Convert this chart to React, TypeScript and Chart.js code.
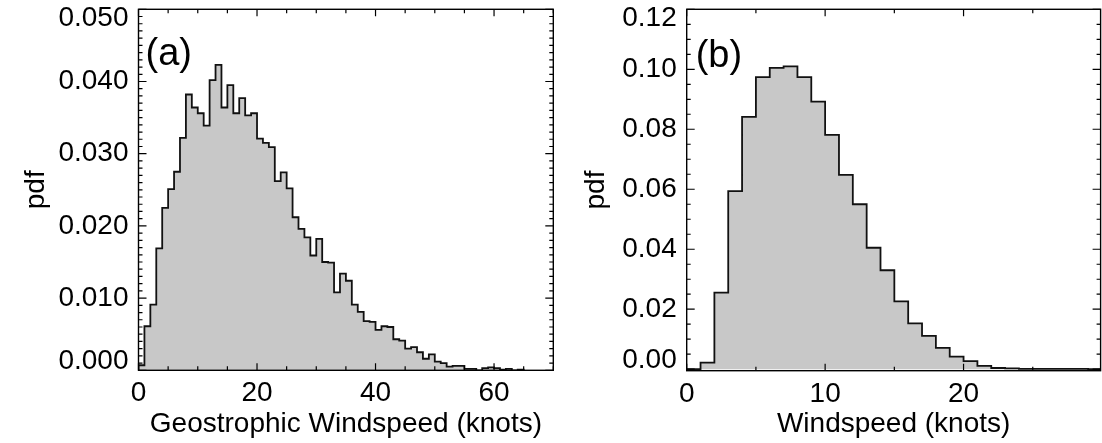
import React, { useEffect, useRef } from "react";
import { Chart, registerables } from "chart.js";

Chart.register(...registerables);

// ---------------- Data: panel (a) ----------------
const A_BIN_START = 0;
const A_BIN_WIDTH = 1; // knots
const A_PDF = [
  0.0007, 0.0061, 0.0091, 0.0169, 0.0225, 0.0251, 0.0275, 0.0322, 0.0382, 0.0364,
  0.0356, 0.0339, 0.0402, 0.0423, 0.0364, 0.0395, 0.0356, 0.0377, 0.0353, 0.0356,
  0.0321, 0.0315, 0.0309, 0.0262, 0.0274, 0.0252, 0.0212, 0.0196, 0.0184, 0.0159,
  0.0182, 0.0150, 0.0149, 0.0108, 0.0134, 0.0124, 0.0091, 0.0081, 0.0068, 0.0067,
  0.0056, 0.0061, 0.0060, 0.0043, 0.0041, 0.0030, 0.0032, 0.0025, 0.0016, 0.0022,
  0.0012, 0.0010, 0.0005, 0.0006, 0.0006, 0.0002, 0.0002, 0.0000, 0.0003, 0.0004,
  0.0003, 0.0001, 0.0002, 0.0000, 0.0001,
];
const A_X_TICKS = [0, 20, 40, 60];
const A_Y_TICKS = [0, 0.01, 0.02, 0.03, 0.04, 0.05];
const A_X_TITLE = "Geostrophic Windspeed (knots)";
const A_TAG = "(a)";

// ---------------- Data: panel (b) ----------------
const B_BIN_START = 0;
const B_BIN_WIDTH = 1; // knots
const B_PDF = [
  0.0, 0.0022, 0.0255, 0.0594, 0.0841, 0.0974, 0.1005, 0.101, 0.0974, 0.0892,
  0.0781, 0.0648, 0.055, 0.0405, 0.033, 0.0226, 0.0153, 0.0111, 0.0071, 0.0042,
  0.0027, 0.0011, 0.0004, 0.0003, 0.0001, 0.0001, 0.0001, 0.0001, 0.0001, 0.00005,
];
const B_X_TICKS = [0, 10, 20];
const B_Y_TICKS = [0, 0.02, 0.04, 0.06, 0.08, 0.1, 0.12];
const B_X_TITLE = "Windspeed (knots)";
const B_TAG = "(b)";

const Y_TITLE = "pdf";

// ---------------- Styling / layout ----------------
const FONT = '"Liberation Sans", Arial, Helvetica, sans-serif';
const FONT_SIZE = 28;
const FILL = "#c8c8c8";

Chart.defaults.color = "#000";
Chart.defaults.font.family = FONT;

type Spec = {
  tag: string;
  values: number[];
  binStart: number;
  binWidth: number;
  xMin: number;
  xMax: number;
  yMin: number;
  yMax: number;
  xTicks: number[];
  yTicks: number[];
  xMinorStep: number;
  yMinorStep: number;
  decimals: number;
  xTitle: string;
  canvasX: number;
  width: number;
  height: number;
  area: { left: number; top: number; right: number; bottom: number };
  tagDx: number;
  tagDy: number;
};

const SPEC_A: Spec = {
  tag: A_TAG,
  values: A_PDF,
  binStart: A_BIN_START,
  binWidth: A_BIN_WIDTH,
  xMin: 0,
  xMax: 70,
  yMin: 0,
  yMax: 0.05,
  xTicks: A_X_TICKS,
  yTicks: A_Y_TICKS,
  xMinorStep: 5,
  yMinorStep: 0.001,
  decimals: 3,
  xTitle: A_X_TITLE,
  canvasX: 0,
  width: 560,
  height: 443,
  area: { left: 138.5, top: 9.3, right: 553.3, bottom: 370.3 },
  tagDx: 7,
  tagDy: 56,
};

const SPEC_B: Spec = {
  tag: B_TAG,
  values: B_PDF,
  binStart: B_BIN_START,
  binWidth: B_BIN_WIDTH,
  xMin: 0,
  xMax: 29.9,
  yMin: -0.0005,
  yMax: 0.12,
  xTicks: B_X_TICKS,
  yTicks: B_Y_TICKS,
  xMinorStep: 5,
  yMinorStep: 0.005,
  decimals: 2,
  xTitle: B_X_TITLE,
  canvasX: 560,
  width: 542,
  height: 443,
  area: { left: 126.7, top: 9.3, right: 540.6, bottom: 370.7 },
  tagDx: 9,
  tagDy: 58,
};

function stepPoints(values: number[], start: number, width: number) {
  const pts: { x: number; y: number }[] = [{ x: start, y: 0 }];
  values.forEach((v, i) => pts.push({ x: start + i * width, y: v }));
  pts.push({ x: start + values.length * width, y: 0 });
  return pts;
}

function tickValues(min: number, max: number, step: number) {
  const out: number[] = [];
  const n0 = Math.ceil(min / step - 1e-9);
  const n1 = Math.floor(max / step + 1e-9);
  for (let k = n0; k <= n1; k++) out.push(k * step);
  return out;
}

function isMajor(v: number, majors: number[], eps: number) {
  return majors.some((t) => Math.abs(t - v) < eps);
}

function framePlugin(spec: Spec) {
  return {
    id: "frame" + spec.canvasX,
    afterDraw(chart: any) {
      const { ctx, chartArea } = chart;
      const { left, right, top, bottom } = chartArea;
      const xs = chart.scales.x;
      const ys = chart.scales.y;
      ctx.save();
      ctx.strokeStyle = "#000";
      ctx.lineWidth = 1.2;
      ctx.beginPath();
      for (const v of tickValues(spec.xMin, spec.xMax, spec.xMinorStep)) {
        const len = isMajor(v, spec.xTicks, spec.xMinorStep / 100) ? 7 : 4;
        const px = xs.getPixelForValue(v);
        ctx.moveTo(px, bottom);
        ctx.lineTo(px, bottom - len);
        ctx.moveTo(px, top);
        ctx.lineTo(px, top + len);
      }
      for (const v of tickValues(spec.yMin, spec.yMax, spec.yMinorStep)) {
        const len = isMajor(v, spec.yTicks, spec.yMinorStep / 100) ? 8 : 4;
        const py = ys.getPixelForValue(v);
        ctx.moveTo(left, py);
        ctx.lineTo(left + len, py);
        ctx.moveTo(right, py);
        ctx.lineTo(right - len, py);
      }
      ctx.stroke();
      ctx.lineWidth = 1.4;
      ctx.strokeRect(left, top, right - left, bottom - top);
      ctx.fillStyle = "#000";
      ctx.font = `38px ${FONT}`;
      ctx.textAlign = "left";
      ctx.textBaseline = "alphabetic";
      ctx.fillText(spec.tag, left + spec.tagDx, top + spec.tagDy);
      ctx.restore();
    },
  };
}

function buildConfig(spec: Spec): any {
  const { area, width, height } = spec;
  return {
    type: "line",
    data: {
      datasets: [
        {
          data: stepPoints(spec.values, spec.binStart, spec.binWidth),
          stepped: "before",
          borderColor: "#111",
          borderWidth: 1.8,
          backgroundColor: FILL,
          fill: "origin",
          pointRadius: 0,
          tension: 0,
        },
      ],
    },
    options: {
      animation: false,
      responsive: false,
      maintainAspectRatio: false,
      events: [],
      layout: {
        padding: { left: 0, top: area.top, right: width - area.right, bottom: 0 },
      },
      plugins: {
        legend: { display: false },
        tooltip: { enabled: false },
      },
      scales: {
        x: {
          type: "linear",
          position: "bottom",
          min: spec.xMin,
          max: spec.xMax,
          grid: { display: false, drawTicks: false },
          border: { display: false },
          ticks: {
            font: { size: FONT_SIZE, family: FONT },
            color: "#000",
            padding: 6.5,
            maxRotation: 0,
            minRotation: 0,
            autoSkip: false,
            callback: (v: any) => String(v),
          },
          title: {
            display: true,
            text: spec.xTitle,
            color: "#000",
            font: { size: FONT_SIZE, family: FONT },
            padding: { top: 0, bottom: 1.5 },
          },
          afterBuildTicks: (s: any) => {
            s.ticks = spec.xTicks.map((value) => ({ value }));
          },
          afterFit: (s: any) => {
            s.height = height - area.bottom;
            s.paddingLeft = 0;
            s.paddingRight = 0;
          },
        },
        y: {
          type: "linear",
          position: "left",
          min: spec.yMin,
          max: spec.yMax,
          grid: { display: false, drawTicks: false },
          border: { display: false },
          ticks: {
            font: { size: FONT_SIZE, family: FONT, lineHeight: "18px" },
            color: "#000",
            padding: 10,
            autoSkip: false,
            callback: (v: any, i: number, ticks: any[]) => {
              const s = Number(v).toFixed(spec.decimals);
              if (i === 0) return [s, ""];
              if (i === ticks.length - 1) return ["", s];
              return s;
            },
          },
          title: {
            display: true,
            text: Y_TITLE,
            color: "#000",
            font: { size: FONT_SIZE, family: FONT },
            padding: { top: 19, bottom: 0 },
          },
          afterBuildTicks: (s: any) => {
            s.ticks = spec.yTicks.map((value) => ({ value }));
          },
          afterFit: (s: any) => {
            s.width = area.left;
            s.paddingTop = 0;
            s.paddingBottom = 0;
          },
        },
      },
    },
    plugins: [framePlugin(spec)],
  };
}

function Panel({ spec }: { spec: Spec }) {
  const ref = useRef<HTMLCanvasElement>(null);
  useEffect(() => {
    if (!ref.current) return;
    const chart = new Chart(ref.current, buildConfig(spec));
    return () => chart.destroy();
  }, [spec]);
  return (
    <canvas
      ref={ref}
      width={spec.width}
      height={spec.height}
      style={{
        position: "absolute",
        left: spec.canvasX,
        top: 0,
        width: spec.width,
        height: spec.height,
      }}
    />
  );
}

export default function App() {
  return (
    <div
      style={{
        position: "absolute",
        left: 0,
        top: 0,
        width: 1102,
        height: 443,
        background: "#fff",
        overflow: "hidden",
      }}
    >
      <Panel spec={SPEC_A} />
      <Panel spec={SPEC_B} />
    </div>
  );
}
